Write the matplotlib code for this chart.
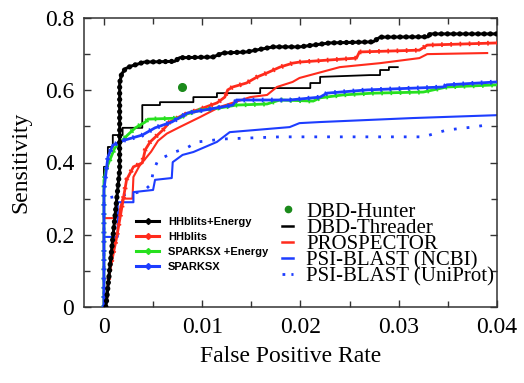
import matplotlib
matplotlib.use("Agg")
import matplotlib.pyplot as plt
from matplotlib.lines import Line2D
from matplotlib.ticker import FixedLocator, FixedFormatter, MultipleLocator

# ---------------- data ----------------
hhe_x = [0.0002, 0.0009, 0.0016, 0.0016, 0.0018, 0.0022, 0.0028, 0.0041, 0.0072, 0.0077, 0.0111,
         0.0121, 0.0145, 0.0172, 0.0199, 0.0230, 0.0274, 0.0281, 0.0330, 0.0332, 0.0400]
hhe_y = [0.0, 0.19, 0.38, 0.62, 0.645, 0.66, 0.667, 0.678, 0.680, 0.690, 0.692,
         0.703, 0.706, 0.720, 0.720, 0.731, 0.734, 0.747, 0.748, 0.756, 0.756]

hh_x = [0.0001, 0.0006, 0.0013, 0.0019, 0.0023, 0.0030, 0.0039, 0.0042, 0.0047, 0.0060, 0.0067,
        0.0080, 0.0101, 0.0115, 0.0123, 0.0126, 0.0131, 0.0145, 0.0156, 0.0166, 0.0179, 0.0192,
        0.0199, 0.0257, 0.0260, 0.0321, 0.0329, 0.0400]
hh_y = [0.0, 0.102, 0.194, 0.288, 0.352, 0.388, 0.399, 0.435, 0.457, 0.490, 0.512,
        0.531, 0.551, 0.565, 0.581, 0.601, 0.609, 0.620, 0.637, 0.648, 0.664, 0.675,
        0.678, 0.689, 0.706, 0.711, 0.725, 0.731]

sxe_x = [0.0, 0.0, 0.0002, 0.0006, 0.0011, 0.0024, 0.0032, 0.0042, 0.0045, 0.0077, 0.0085, 0.0098,
         0.0120, 0.0135, 0.0166, 0.0179, 0.0213, 0.0220, 0.0243, 0.0274, 0.0325, 0.0349, 0.0400]
sxe_y = [0.0, 0.35, 0.38, 0.407, 0.44, 0.476, 0.496, 0.512, 0.520, 0.523, 0.535, 0.545,
         0.552, 0.559, 0.562, 0.573, 0.570, 0.579, 0.587, 0.592, 0.595, 0.609, 0.615]

sx_x = [0.0, 0.0, 0.0004, 0.0009, 0.0021, 0.0039, 0.0052, 0.0069, 0.0085, 0.0131, 0.0135, 0.0189,
        0.0220, 0.0227, 0.0268, 0.0345, 0.0349, 0.0400]
sx_y = [0.0, 0.324, 0.415, 0.448, 0.462, 0.476, 0.496, 0.512, 0.537, 0.559, 0.573, 0.573,
        0.581, 0.592, 0.601, 0.609, 0.615, 0.623]

hunter_x = [0.0079]
hunter_y = [0.609]

thr_x = [0.0, 0.0, 0.0004, 0.0004, 0.0009, 0.0009, 0.0019, 0.0019, 0.0039, 0.0039, 0.0057, 0.0057,
         0.0091, 0.0091, 0.0115, 0.0115, 0.0159, 0.0159, 0.0210, 0.0210, 0.0220, 0.0220, 0.0271,
         0.0281, 0.0281, 0.0290, 0.0290, 0.0299]
thr_y = [0.0, 0.388, 0.388, 0.443, 0.443, 0.476, 0.476, 0.496, 0.496, 0.559, 0.559, 0.567,
         0.567, 0.581, 0.581, 0.592, 0.592, 0.606, 0.606, 0.620, 0.620, 0.637, 0.642,
         0.642, 0.656, 0.656, 0.664, 0.664]

pros_x = [0.0, 0.0, 0.0014, 0.0019, 0.0029, 0.0030, 0.0036, 0.0042, 0.0048, 0.0055, 0.0064, 0.0077,
          0.0098, 0.0118, 0.0149, 0.0166, 0.0176, 0.0192, 0.0199, 0.0240, 0.0281, 0.0321, 0.0329, 0.0390]
pros_y = [0.0, 0.246, 0.246, 0.30, 0.30, 0.36, 0.39, 0.41, 0.43, 0.46, 0.48, 0.498,
          0.526, 0.554, 0.581, 0.587, 0.609, 0.623, 0.634, 0.664, 0.675, 0.689, 0.700, 0.703]

ncbi_x = [0.0, 0.0, 0.0014, 0.0014, 0.0030, 0.0030, 0.0050, 0.0052, 0.0069, 0.0070, 0.0080, 0.0091,
          0.0115, 0.0128, 0.0189, 0.0199, 0.0220, 0.0314, 0.0400]
ncbi_y = [0.0, 0.194, 0.194, 0.29, 0.29, 0.318, 0.324, 0.352, 0.357, 0.401, 0.421, 0.429,
          0.457, 0.484, 0.498, 0.509, 0.512, 0.523, 0.531]

uni_x = [0.0, 0.0, 0.0040, 0.0048, 0.0050, 0.0055, 0.0072, 0.0084, 0.0095, 0.0106, 0.0120, 0.0179,
         0.0325, 0.0349, 0.0375, 0.0390]
uni_y = [0.0, 0.30, 0.32, 0.34, 0.374, 0.407, 0.429, 0.440, 0.457, 0.460, 0.465, 0.471,
         0.471, 0.490, 0.498, 0.504]

xticks = [0.0, 0.01, 0.02, 0.03, 0.04]
xtick_labels = ["0", "0.01", "0.02", "0.03", "0.04"]
yticks = [0.0, 0.2, 0.4, 0.6, 0.8]
ytick_labels = ["0", "0.2", "0.4", "0.6", "0.8"]

left_labels = ["HHblits+Energy", "HHblits", "SPARKSX +Energy", "SPARKSX"]
right_labels = ["DBD-Hunter", "DBD-Threader", "PROSPECTOR", "PSI-BLAST (NCBI)", "PSI-BLAST (UniProt)"]

# ---------------- style ----------------
RED = "#ff2b1c"
GREEN = "#27e01f"
BLUE = "#1d3dff"
BLACK = "#000000"
DKGREEN = "#1b8a1b"
SERIF = ["Liberation Serif", "DejaVu Serif"]
SANS = ["Liberation Sans", "DejaVu Sans"]

W, H = 524, 383
fig = plt.figure(figsize=(W / 100, H / 100), dpi=100)
ax = fig.add_axes([84 / W, 1 - 307 / H, (497 - 84) / W, (307 - 18) / H])

# thin lines
ax.plot(thr_x, thr_y, color=BLACK, lw=1.3, zorder=2)
ax.plot(pros_x, pros_y, color=RED, lw=1.5, zorder=2)
ax.plot(ncbi_x, ncbi_y, color=BLUE, lw=1.5, zorder=2)
ax.plot(uni_x, uni_y, color=BLUE, lw=2.0, ls=(0, (1, 3.6)), zorder=2)

# thick lines with small tick marks
for xs, ys, c, z in [(hh_x, hh_y, RED, 3), (sxe_x, sxe_y, GREEN, 4), (sx_x, sx_y, BLUE, 5)]:
    ax.plot(xs, ys, color=c, lw=2.0, zorder=z, solid_joinstyle="miter")
    ax.plot(xs, ys, color=c, lw=3.4, ls=(0, (0.35, 1.6)), zorder=z)

# black thick with dot markers
ax.plot(hhe_x, hhe_y, color=BLACK, lw=2.2, zorder=6)
ax.plot(hhe_x, hhe_y, color=BLACK, lw=3.8, ls=(0, (0.01, 1.15)),
        dash_capstyle="round", zorder=6)

ax.plot(hunter_x, hunter_y, "o", color=DKGREEN, ms=5.5, zorder=7)

ax.set_xlim(-0.00203, 0.04)
ax.set_ylim(0, 0.8)
ax.xaxis.set_major_locator(FixedLocator(xticks))
ax.xaxis.set_major_formatter(FixedFormatter(xtick_labels))
ax.yaxis.set_major_locator(FixedLocator(yticks))
ax.yaxis.set_major_formatter(FixedFormatter(ytick_labels))
ax.xaxis.set_minor_locator(MultipleLocator(0.005))
ax.yaxis.set_minor_locator(MultipleLocator(0.1))
ax.tick_params(which="both", direction="in", top=True, right=True, width=1.0, color="#333333")
ax.tick_params(which="major", length=5, pad=7, labelsize=17)
ax.tick_params(which="minor", length=4)
for lab in ax.get_xticklabels() + ax.get_yticklabels():
    lab.set_family(SERIF)
for s in ax.spines.values():
    s.set_linewidth(1.1)
    s.set_color("#333333")

ax.set_xlabel("False Positive Rate", fontsize=17, family=SERIF, labelpad=6)
ax.set_ylabel("Sensitivity", fontsize=17, family=SERIF, labelpad=10)

# left legend
lh = [Line2D([], [], color=c, lw=2.2, marker="D", ms=3.0, mec=c, mfc=c)
      for c in [BLACK, RED, GREEN, BLUE]]
leg1 = fig.legend(lh, left_labels, loc="upper left",
                  bbox_to_anchor=(136 / W, 1 - 217 / H), frameon=False,
                  prop={"family": SANS, "weight": "bold", "size": 8},
                  handlelength=2.1, handletextpad=0.8, labelspacing=0.45,
                  borderpad=0, borderaxespad=0)

# right legend
rh = [Line2D([], [], ls="none", marker="o", color=DKGREEN, ms=4.5),
      Line2D([], [], color=BLACK, lw=1.8),
      Line2D([], [], color=RED, lw=1.8),
      Line2D([], [], color=BLUE, lw=1.8),
      Line2D([], [], color=BLUE, lw=2.0, ls=(0, (1, 2.2)))]
leg2 = fig.legend(rh, right_labels, loc="upper left",
                  bbox_to_anchor=(282 / W, 1 - 202 / H), frameon=False,
                  prop={"family": SERIF, "size": 15},
                  handlelength=0.55, handletextpad=0.6, labelspacing=-0.16,
                  borderpad=0, borderaxespad=0, numpoints=1)

fig.savefig("out.png", dpi=100)
